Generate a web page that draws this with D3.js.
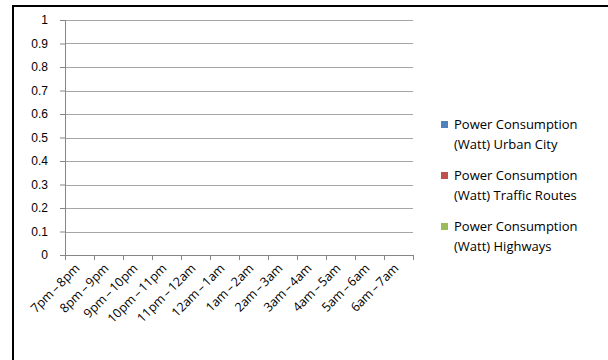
<!DOCTYPE html>
<html>
<head>
<meta charset="utf-8">
<script src="https://cdn.jsdelivr.net/npm/d3@7"></script>
<style>
  html, body { margin: 0; padding: 0; background: #fff; overflow: hidden; }
  svg { display: block; font-family: "Open Sans", "Noto Sans", sans-serif; }
  .axis text { fill: #000; }
</style>
</head>
<body>
<svg id="chart" width="608" height="360"></svg>
<script>
// categories (time slots) and series -- the source chart has no values plotted
const categories = ['7pm – 8pm', '8pm – 9pm', '9pm – 10pm', '10pm – 11pm', '11pm – 12am', '12am – 1am',
  '1am – 2am', '2am – 3am', '3am – 4am', '4am – 5am', '5am – 6am', '6am – 7am'];
const seriesNames = ['Power Consumption (Watt) Urban City', 'Power Consumption (Watt) Traffic Routes', 'Power Consumption (Watt) Highways'];
const seriesColors = ['#4F81BD', '#C0504D', '#9BBB59'];
const urbanCity = [];
const trafficRoutes = [];
const highways = [];
const yTicks = [0, 0.1, 0.2, 0.3, 0.4, 0.5, 0.6, 0.7, 0.8, 0.9, 1];

const svg = d3.select('#chart');

// outer frame (only top and left edges fall inside the picture)
svg.append('path')
  .attr('d', 'M13,360V6H608')
  .attr('fill', 'none').attr('stroke', '#000').attr('stroke-width', 2);

const margin = {left: 65, top: 20};
const width = 348, height = 235;
const g = svg.append('g').attr('transform', `translate(${margin.left},${margin.top})`);

const x = d3.scaleBand().domain(categories).range([0, width]);
const y = d3.scaleLinear().domain([0, 1]).range([height, 0]);

// gridlines
g.append('g')
  .selectAll('line')
  .data(yTicks.filter(d => d > 0))
  .join('line')
  .attr('x1', 0).attr('x2', width)
  .attr('y1', d => Math.round(y(d)) + 0.5).attr('y2', d => Math.round(y(d)) + 0.5)
  .attr('stroke', '#A6A6A6').attr('stroke-width', 1);

// y axis
const yAxis = g.append('g').attr('class', 'axis')
  .call(d3.axisLeft(y).tickValues(yTicks).tickSize(5).tickPadding(12).tickFormat(d3.format('')));
yAxis.selectAll('line, path').attr('stroke', '#868686');
yAxis.select('.domain').attr('d', `M0.5,0V${height}`);
yAxis.selectAll('text').style('font-size', '12px');

// x axis with ticks between categories
const xAxis = g.append('g').attr('class', 'axis')
  .attr('transform', `translate(0,${height})`);
xAxis.append('line')
  .attr('x1', 0).attr('x2', width).attr('y1', 0.5).attr('y2', 0.5)
  .attr('stroke', '#868686');
xAxis.selectAll('.tk')
  .data(categories.concat(['end']))
  .join('line')
  .attr('class', 'tk')
  .attr('x1', (d, i) => Math.round(i * x.bandwidth()) + 0.5)
  .attr('x2', (d, i) => Math.round(i * x.bandwidth()) + 0.5)
  .attr('y1', 0).attr('y2', 5)
  .attr('stroke', '#868686');
xAxis.selectAll('.lbl')
  .data(categories)
  .join('text')
  .attr('class', 'lbl')
  .attr('text-anchor', 'end')
  .attr('transform', d => `translate(${x(d) + x.bandwidth() / 2 + 1},${14}) rotate(-45)`)
  .style('font-size', '12.5px')
  .style('word-spacing', '-1.2px')
  .text(d => d);

// bars (no data in the source chart)
const series = [urbanCity, trafficRoutes, highways];
const inner = d3.scaleBand().domain(d3.range(3)).range([0, x.bandwidth()]).padding(0.1);
series.forEach((vals, si) => {
  g.append('g').selectAll('rect')
    .data(vals)
    .join('rect')
    .attr('x', (d, i) => x(categories[i]) + inner(si))
    .attr('width', inner.bandwidth())
    .attr('y', d => y(d))
    .attr('height', d => height - y(d))
    .attr('fill', seriesColors[si]);
});

// legend
const legend = svg.append('g').attr('transform', 'translate(441,121)');
const items = legend.selectAll('g')
  .data(seriesNames)
  .join('g')
  .attr('transform', (d, i) => `translate(0,${i * 51})`);
items.append('rect')
  .attr('width', 7).attr('height', 7)
  .attr('fill', (d, i) => seriesColors[i]);
const txt = items.append('text')
  .attr('x', 13).attr('y', 8)
  .style('font-size', '13px')
  .attr('fill', '#000');
txt.append('tspan').attr('x', 13).attr('dy', 0).text(d => d.split(' (')[0]);
txt.append('tspan').attr('x', 13).attr('dy', 20).text(d => '(' + d.split(' (')[1]);
</script>
</body>
</html>
